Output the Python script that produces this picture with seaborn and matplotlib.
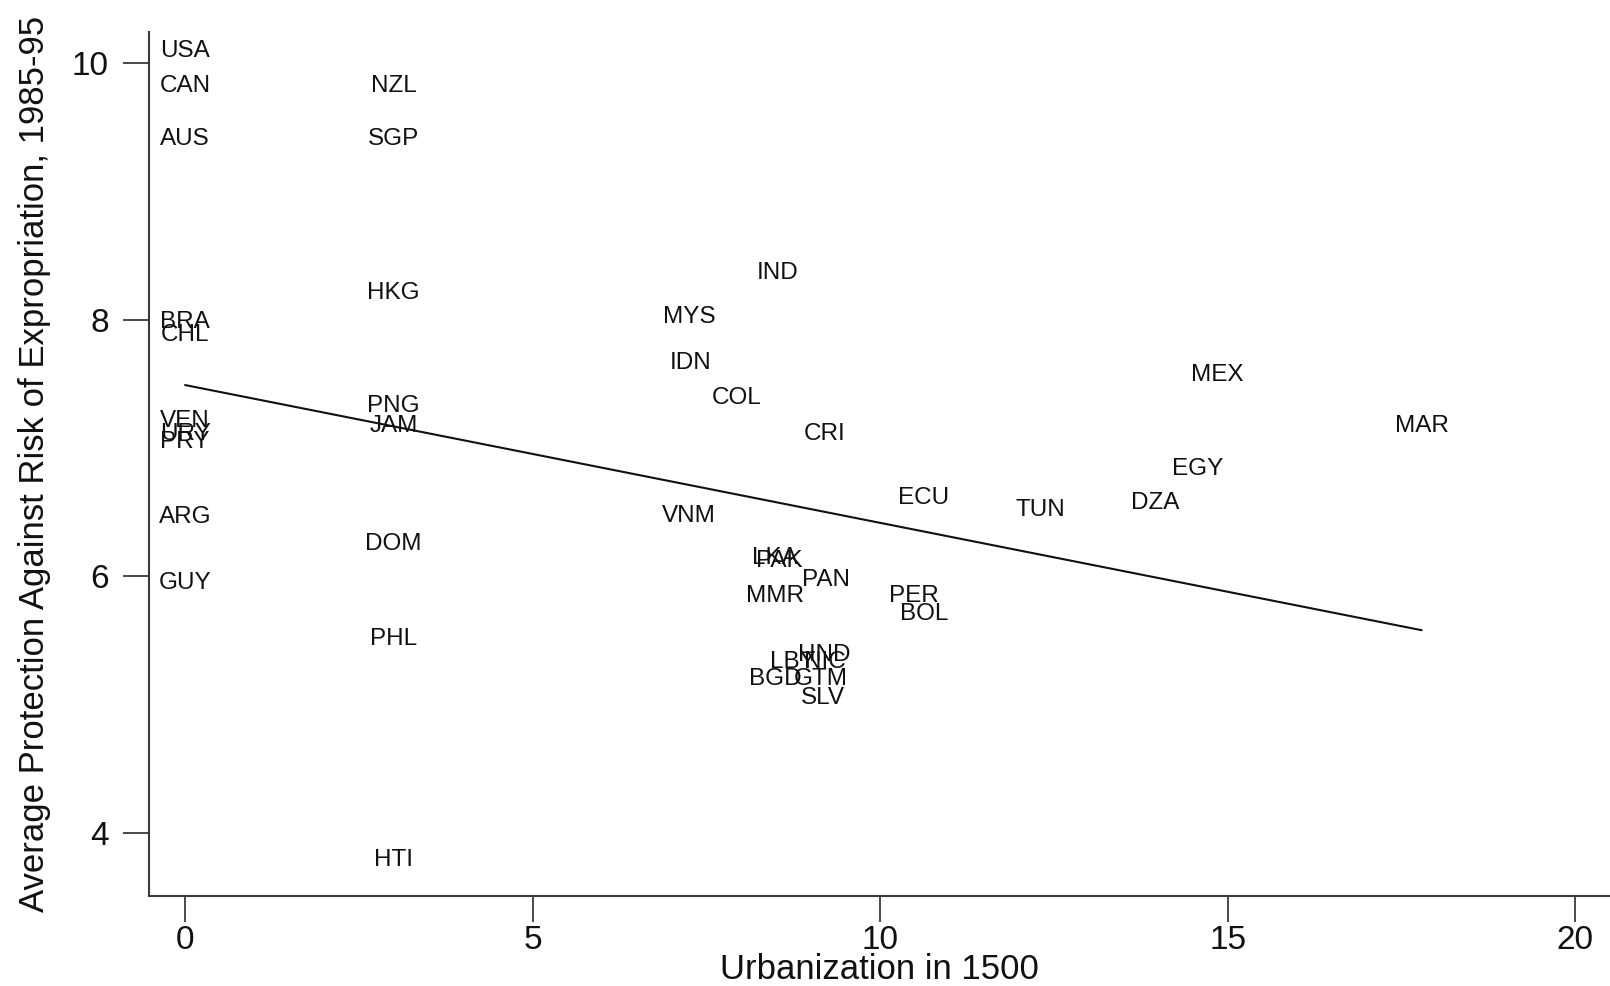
import numpy as np
import pandas as pd
import matplotlib
matplotlib.use("Agg")
import matplotlib.pyplot as plt
import seaborn as sns

# Country codes, urbanization in 1500 (%) and average protection against expropriation risk
countries = ["USA", "CAN", "AUS", "NZL", "SGP", "HKG", "BRA", "CHL", "IND", "MYS",
             "IDN", "MEX", "PNG", "COL", "JAM", "VEN", "URY", "PRY", "CRI", "MAR",
             "EGY", "DZA", "TUN", "ECU", "VNM", "ARG", "DOM", "LKA", "PAK", "PAN",
             "GUY", "MMR", "PER", "BOL", "PHL", "HND", "LBY", "NIC", "BGD", "GTM",
             "SLV", "HTI"]
urbanization = [0.0, 0.0, 0.0, 3.0, 3.0, 3.0, 0.0, 0.0, 8.52, 7.25,
                7.28, 14.85, 3.0, 7.93, 3.0, 0.0, 0.0, 0.0, 9.2, 17.79,
                14.57, 13.96, 12.31, 10.63, 7.25, 0.0, 3.0, 8.48, 8.55, 9.22,
                0.0, 8.49, 10.48, 10.63, 3.0, 9.2, 8.74, 9.2, 8.49, 9.15,
                9.18, 3.0]
expropriation = [10.0, 9.73, 9.32, 9.73, 9.32, 8.12, 7.89, 7.79, 8.27, 7.93,
                 7.57, 7.48, 7.24, 7.30, 7.08, 7.12, 7.02, 6.96, 7.02, 7.08,
                 6.75, 6.48, 6.43, 6.52, 6.38, 6.37, 6.16, 6.05, 6.03, 5.88,
                 5.86, 5.76, 5.76, 5.62, 5.42, 5.30, 5.24, 5.24, 5.11, 5.11,
                 4.96, 3.70]

x_ticks = [0, 5, 10, 15, 20]
y_ticks = [4, 6, 8, 10]

df = pd.DataFrame({"code": countries, "urban": urbanization, "avexpr": expropriation})

sns.set_theme(style="white")
plt.rcParams["font.family"] = ["Liberation Sans", "DejaVu Sans"]

fig = plt.figure(figsize=(16.1, 9.86), dpi=100)
ax = fig.add_axes([0.0925, 0.0913, 0.9075, 0.8762])

ink = "#111111"

# OLS fit line across the observed range
sns.regplot(data=df, x="urban", y="avexpr", scatter=False, ci=None, truncate=True,
            line_kws={"color": ink, "linewidth": 1.5}, ax=ax)

# Country codes as markers, set just above each observation
for code, xv, yv in zip(df["code"], df["urban"], df["avexpr"]):
    ax.annotate(code, (xv, yv), xytext=(0, 8.3), textcoords="offset points",
                ha="center", va="center", fontsize=17.5, color=ink)

ax.set_xlim(-0.52, 20.5)
ax.set_ylim(3.51, 10.24)
ax.set_xticks(x_ticks)
ax.set_yticks(y_ticks)
ax.set_xticklabels([str(t) for t in x_ticks])
ax.set_yticklabels([str(t) for t in y_ticks])

for side in ["top", "right"]:
    ax.spines[side].set_visible(False)
for side in ["left", "bottom"]:
    ax.spines[side].set_color("#3a3a3a")
    ax.spines[side].set_linewidth(1.5)

ax.tick_params(axis="both", which="major", direction="out", length=19, width=1.3,
               color="#3a3a3a", labelsize=24, labelcolor=ink)
ax.tick_params(axis="y", pad=10)
ax.tick_params(axis="x", pad=2)
ax.tick_params(left=True, bottom=True)

ax.set_xlabel("Urbanization in 1500", fontsize=25, color=ink, labelpad=-2)
ax.set_ylabel("Average Protection Against Risk of Expropriation, 1985-95",
              fontsize=25, color=ink, labelpad=15)
ax.grid(False)

fig.savefig("out.png", dpi=100, facecolor="white")
